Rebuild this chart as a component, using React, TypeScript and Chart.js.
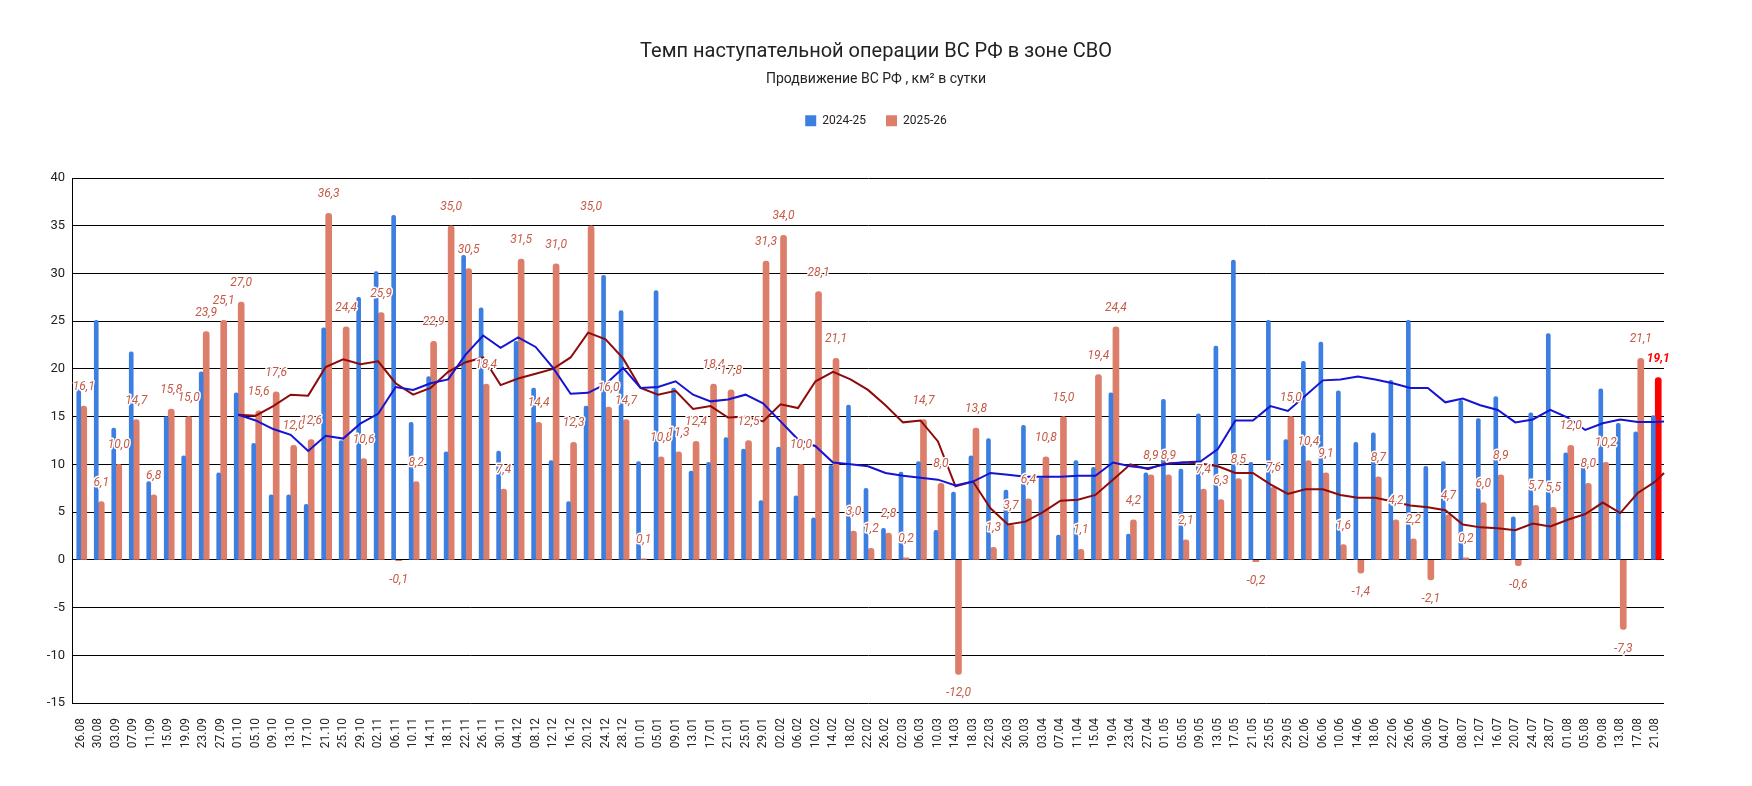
import { useEffect, useRef } from 'react';
import { Chart, registerables } from 'chart.js';

Chart.register(...registerables);
Chart.defaults.font.family = 'Roboto, Arial, sans-serif';

// 4-day periods, 26.08 -> 21.08
const dates = [
  '26.08', '30.08', '03.09', '07.09', '11.09', '15.09', '19.09', '23.09', '27.09', '01.10',
  '05.10', '09.10', '13.10', '17.10', '21.10', '25.10', '29.10', '02.11', '06.11', '10.11',
  '14.11', '18.11', '22.11', '26.11', '30.11', '04.12', '08.12', '12.12', '16.12', '20.12',
  '24.12', '28.12', '01.01', '05.01', '09.01', '13.01', '17.01', '21.01', '25.01', '29.01',
  '02.02', '06.02', '10.02', '14.02', '18.02', '22.02', '26.02', '02.03', '06.03', '10.03',
  '14.03', '18.03', '22.03', '26.03', '30.03', '03.04', '07.04', '11.04', '15.04', '19.04',
  '23.04', '27.04', '01.05', '05.05', '09.05', '13.05', '17.05', '21.05', '25.05', '29.05',
  '02.06', '06.06', '10.06', '14.06', '18.06', '22.06', '26.06', '30.06', '04.07', '08.07',
  '12.07', '16.07', '20.07', '24.07', '28.07', '01.08', '05.08', '09.08', '13.08', '17.08',
  '21.08',
];

const series2425 = [
  17.8, 25.1, 13.8, 21.8, 8.2, 15.0, 10.9, 19.7, 9.1, 17.5,
  12.2, 6.8, 6.8, 5.8, 24.3, 12.5, 27.5, 30.2, 36.1, 14.4,
  19.2, 11.3, 31.9, 26.4, 11.4, 22.9, 18.0, 10.4, 6.1, 16.1,
  29.8, 26.1, 10.3, 28.2, 18.0, 9.3, 10.2, 12.8, 11.6, 6.2,
  11.8, 6.7, 4.4, 9.9, 16.2, 7.5, 3.3, 9.2, 10.3, 3.1,
  7.1, 10.9, 12.7, 7.3, 14.1, 8.6, 2.6, 10.4, 9.7, 17.5,
  2.7, 9.1, 16.8, 9.5, 15.3, 22.4, 31.4, 10.2, 25.1, 12.6,
  20.8, 22.8, 17.7, 12.3, 13.3, 18.8, 25.1, 9.8, 10.3, 16.7,
  14.8, 17.1, 4.5, 15.4, 23.7, 11.2, 10.7, 17.9, 14.3, 13.4,
  15.1,
];

const series2526 = [
  16.1, 6.1, 10.0, 14.7, 6.8, 15.8, 15.0, 23.9, 25.1, 27.0,
  15.6, 17.6, 12.0, 12.6, 36.3, 24.4, 10.6, 25.9, -0.1, 8.2,
  22.9, 35.0, 30.5, 18.4, 7.4, 31.5, 14.4, 31.0, 12.3, 35.0,
  16.0, 14.7, 0.1, 10.8, 11.3, 12.4, 18.4, 17.8, 12.5, 31.3,
  34.0, 10.0, 28.1, 21.1, 3.0, 1.2, 2.8, 0.2, 14.7, 8.0,
  -12.0, 13.8, 1.3, 3.7, 6.4, 10.8, 15.0, 1.1, 19.4, 24.4,
  4.2, 8.9, 8.9, 2.1, 7.4, 6.3, 8.5, -0.2, 7.6, 15.0,
  10.4, 9.1, 1.6, -1.4, 8.7, 4.2, 2.2, -2.1, 4.7, 0.2,
  6.0, 8.9, -0.6, 5.7, 5.5, 12.0, 8.0, 10.2, -7.3, 21.1,
  19.1,
];

// smoothed lines (start at 01.10)
const avg2425 = [
  null, null, null, null, null, null, null, null, null,
  15.2, 14.6, 13.7, 13.1, 11.4, 13.0, 12.7, 14.3, 15.3, 18.1,
  17.8, 18.5, 18.9, 21.5, 23.5, 22.2, 23.3, 22.3, 20.1, 17.4,
  17.5, 18.4, 20.1, 18.0, 18.1, 18.7, 17.3, 16.6, 16.8, 17.3,
  16.4, 14.5, 12.6, 11.9, 10.2, 10.0, 9.8, 9.1, 8.8, 8.6,
  8.4, 7.8, 8.2, 9.1, 8.9, 8.7, 8.7, 8.7, 8.8, 8.8,
  10.2, 9.8, 9.6, 10.0, 10.2, 10.3, 11.6, 14.6, 14.6, 16.1,
  15.6, 17.2, 18.8, 18.9, 19.2, 18.9, 18.5, 18.0, 18.0, 16.5,
  16.9, 16.2, 15.7, 14.4, 14.7, 15.7, 14.9, 13.6, 14.3, 14.7,
  14.45, 14.45,
];

const avg2526 = [
  null, null, null, null, null, null, null, null, null,
  15.2, 15.1, 16.1, 17.3, 17.2, 20.2, 21.0, 20.5, 20.8, 18.5,
  17.3, 18.0, 19.7, 20.7, 21.2, 18.3, 19.0, 19.5, 20.0, 21.2,
  23.8, 23.1, 21.1, 18.0, 17.3, 17.7, 15.8, 16.1, 14.9, 15.0,
  14.5, 16.3, 15.9, 18.7, 19.7, 18.9, 17.8, 16.2, 14.4, 14.6,
  12.4, 7.7, 8.2, 5.4, 3.7, 4.0, 5.0, 6.2, 6.3, 6.8,
  8.4, 10.0, 9.5, 10.1, 10.2, 10.1, 9.8, 9.1, 9.1, 7.9,
  6.9, 7.4, 7.4, 6.8, 6.5, 6.5, 6.1, 5.7, 5.5, 5.2,
  3.7, 3.4, 3.3, 3.1, 3.8, 3.5, 4.2, 4.8, 6.0, 4.9,
  7.0, 8.2,
];

// value of each line where it meets the right edge of the plot
const edge2425 = 14.5;
const edge2526 = 9.1;

const BLUE = '#3d7fe0';
const SALMON = '#dd7e6b';
const LAST_RED = '#ff0000';
const LABEL_COLOR = '#c55a47';
const LINE_BLUE = '#1414d2';
const LINE_RED = '#8e0b0b';
const lastIndex = series2526.length - 1;

// the original lines carry on past the last category to the plot edge
const lineEdges = {
  id: 'lineEdges',
  afterDatasetsDraw(chart: Chart) {
    const ctx = chart.ctx;
    const yScale = chart.scales.y;
    const right = chart.chartArea.right;
    const runs: [number, number, string][] = [[2, edge2425, LINE_BLUE], [3, edge2526, LINE_RED]];
    ctx.save();
    ctx.lineWidth = 2;
    ctx.lineJoin = 'round';
    runs.forEach(([idx, edge, color]) => {
      const pts = chart.getDatasetMeta(idx).data;
      const last = pts[pts.length - 1] as unknown as { x: number; y: number } | undefined;
      if (!last) return;
      ctx.strokeStyle = color;
      ctx.beginPath();
      ctx.moveTo(last.x, last.y);
      ctx.lineTo(right, yScale.getPixelForValue(edge));
      ctx.stroke();
    });
    ctx.restore();
  },
};

// value labels over the 2025-26 bars, white halo like the original
const barLabels = {
  id: 'barLabels',
  afterDatasetsDraw(chart: Chart) {
    const meta = chart.getDatasetMeta(1);
    const ctx = chart.ctx;
    ctx.save();
    ctx.textAlign = 'center';
    ctx.textBaseline = 'middle';
    ctx.lineJoin = 'round';
    meta.data.forEach((el, i) => {
      const v = series2526[i];
      if (v === undefined) return;
      const { x, y } = el.getProps(['x', 'y'], true) as { x: number; y: number };
      const last = i === lastIndex;
      const ty = v >= 0 ? y - 19 : y + 19;
      const text = v.toFixed(1).replace('.', ',');
      ctx.font = `italic ${last ? 'bold ' : ''}12px Roboto, Arial, sans-serif`;
      ctx.lineWidth = 3;
      ctx.strokeStyle = '#ffffff';
      ctx.strokeText(text, x, ty);
      ctx.fillStyle = last ? LAST_RED : LABEL_COLOR;
      ctx.fillText(text, x, ty);
    });
    ctx.restore();
  },
};

// extra room between legend and plot
const legendGap = {
  id: 'legendGap',
  afterInit(chart: Chart) {
    const legend = chart.legend as unknown as { fit: () => void; height: number } | undefined;
    if (!legend) return;
    const fit = legend.fit;
    legend.fit = function (this: { height: number }) {
      fit.call(this);
      this.height += 41.3;
    };
  },
};

export default function App() {
  const canvasRef = useRef<HTMLCanvasElement>(null);

  useEffect(() => {
    if (canvasRef.current === null) return undefined;
    const chart = new Chart(canvasRef.current, {
      type: 'bar',
      data: {
        labels: dates,
        datasets: [
          {
            type: 'bar',
            label: '2024-25',
            data: series2425,
            backgroundColor: BLUE,
            barThickness: 4,
            borderRadius: 2,
            order: 1,
          },
          {
            type: 'bar',
            label: '2025-26',
            data: series2526,
            backgroundColor: (c: { dataIndex?: number }) => (c.dataIndex === lastIndex ? LAST_RED : SALMON),
            barThickness: 6,
            borderRadius: 3,
            order: 1,
          },
          {
            type: 'line',
            label: 'avg 2024-25',
            data: avg2425,
            borderColor: LINE_BLUE,
            borderWidth: 2,
            pointRadius: 0,
            tension: 0,
            order: 0,
          },
          {
            type: 'line',
            label: 'avg 2025-26',
            data: avg2526,
            borderColor: LINE_RED,
            borderWidth: 2,
            pointRadius: 0,
            tension: 0,
            order: 0,
          },
        ],
      } as never,
      options: {
        animation: false,
        responsive: true,
        maintainAspectRatio: false,
        events: [],
        layout: { padding: 0 },
        plugins: {
          title: {
            display: true,
            text: 'Темп наступательной операции ВС РФ в зоне СВО',
            color: '#222',
            font: { size: 20, weight: 'normal' },
            padding: { top: 31.7, bottom: 0 },
          },
          subtitle: {
            display: true,
            text: 'Продвижение ВС РФ , км² в сутки',
            color: '#222',
            font: { size: 14 },
            padding: { top: 7.2, bottom: 7 },
          },
          legend: {
            display: true,
            position: 'top',
            labels: {
              boxWidth: 11,
              boxHeight: 11,
              padding: 20,
              color: '#222',
              font: { size: 12 },
              filter: (item) => (item.datasetIndex ?? 0) < 2,
            },
          },
          tooltip: { enabled: false },
        },
        scales: {
          x: {
            grid: { display: false },
            border: { display: false },
            ticks: {
              autoSkip: false,
              minRotation: 90,
              maxRotation: 90,
              padding: 7,
              color: '#222',
              font: { size: 12 },
            },
            afterFit: (scale) => { scale.height = 75; },
          },
          y: {
            min: -15,
            max: 40,
            ticks: { stepSize: 5, color: '#222', font: { size: 13 }, padding: 7 },
            grid: { color: '#000', lineWidth: 1, drawTicks: false },
            border: { display: true, color: '#000', width: 1 },
            afterFit: (scale) => { scale.width = 64; },
          },
          // empty right-hand axis: keeps the plot clear of the right margin
          yRight: {
            type: 'linear',
            axis: 'y',
            position: 'right',
            display: true,
            grid: { display: false },
            border: { display: false },
            ticks: { display: false },
            afterFit: (scale) => { scale.width = 80; },
          },
        },
      },
      plugins: [lineEdges, barLabels, legendGap],
    });
    return () => { chart.destroy(); };
  }, []);

  return (
    <div style={{ position: 'relative', width: 1736, height: 770 }}>
      <canvas ref={canvasRef} />
    </div>
  );
}
